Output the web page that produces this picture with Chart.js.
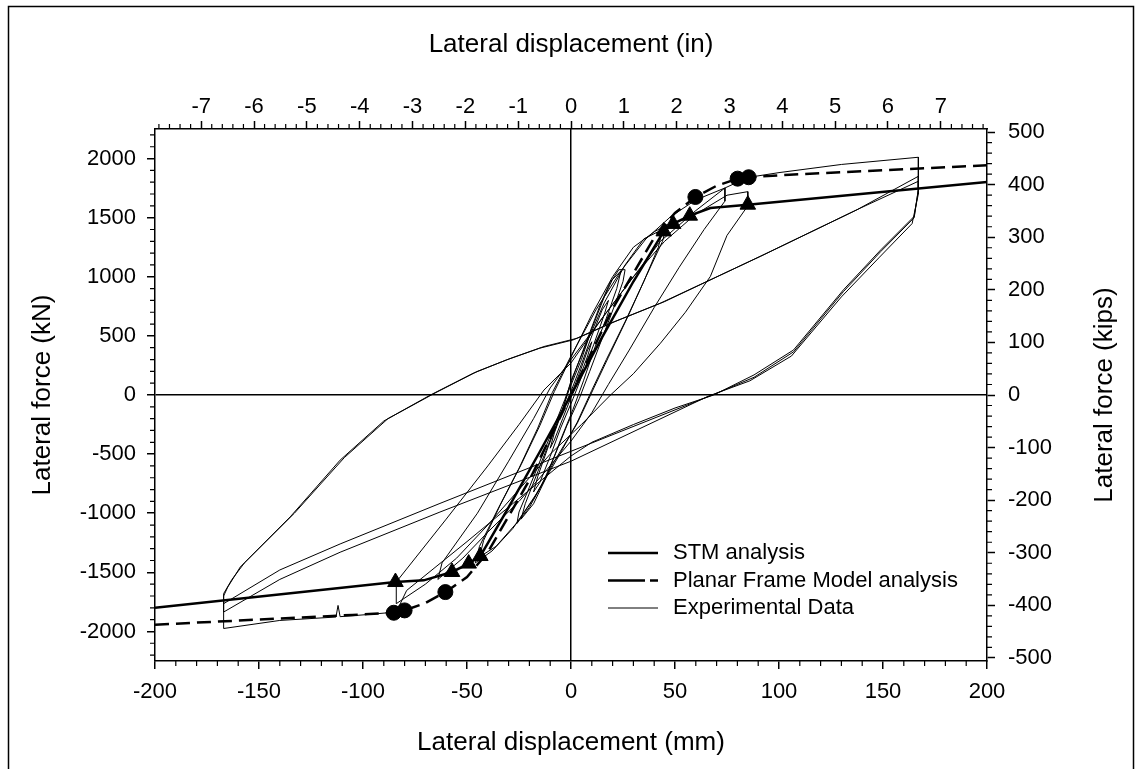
<!DOCTYPE html>
<html>
<head>
<meta charset="utf-8">
<script src="https://cdn.jsdelivr.net/npm/chart.js@4"></script>
<style>
  body { margin: 0; background: #fff; }
  #wrap { width: 1139px; height: 769px; }
</style>
</head>
<body>
<div id="wrap"><canvas id="myChart"></canvas></div>
<script>
// tick labels
var mmTicks = [-200, -150, -100, -50, 0, 50, 100, 150, 200];
var inTicks = [-7, -6, -5, -4, -3, -2, -1, 0, 1, 2, 3, 4, 5, 6, 7];
var kNTicks = [-2000, -1500, -1000, -500, 0, 500, 1000, 1500, 2000];
var kipTicks = [-500, -400, -300, -200, -100, 0, 100, 200, 300, 400, 500];

// STM analysis (mm, kN)
var stmDisp = [-200, -84.4, -70.8, -57.2, -49.2, -43.6, -30, -15, 0, 15, 30, 44.6, 49.1, 57.1, 67, 85, 200];
var stmForce = [-1799, -1582, -1568, -1497, -1426, -1362, -950, -480, 0, 490, 960, 1384, 1447, 1517, 1582, 1610, 1802];
var stmMarkDisp = [-84.4, -57.2, -49.2, -43.6, 44.6, 49.1, 57.1, 85];
var stmMarkForce = [-1582, -1497, -1426, -1362, 1384, 1447, 1517, 1610];

// Planar Frame Model analysis
var pfmDisp = [-200, -105, -85.2, -80, -70, -60.4, -50, -40, -20, 0, 20, 40, 50, 59.8, 70, 80.1, 85.4, 105, 200];
var pfmForce = [-1943, -1860, -1842, -1822, -1760, -1667, -1540, -1330, -720, 0, 730, 1330, 1540, 1675, 1770, 1830, 1842, 1864, 1943];
var pfmMarkDisp = [-85.2, -80, -60.4, 59.8, 80.1, 85.4];
var pfmMarkForce = [-1842, -1822, -1667, 1675, 1830, 1842];

// Experimental data, [mm, kN], in loading order
var expSmall = [[0,0],[4,180],[8,380],[10,450],[8,330],[4,140],[0,-20],[-4,-200],[-8,-380],[-10,-450],[-8,-320],[-4,-130],[0,30],
  [5,260],[10,500],[15,720],[18,800],[16,680],[11,430],[5,150],[1,-30],[-5,-280],[-10,-520],[-15,-740],[-18,-820],[-16,-690],[-11,-440],[-5,-170],[-1,40]];
var exp25 = [[5,300],[10,560],[16,830],[20,980],[23,1060],[26,1060],[25,960],[21,760],[15,480],[9,200],[4,-30],[-2,-260],[-8,-520],[-14,-760],[-20,-950],[-26,-1087],[-25,-990],[-20,-780],[-14,-520],[-8,-260],[-3,-40],
  [2,200],[8,480],[14,760],[19,960],[24,1050],[22,900],[17,650],[11,380],[6,120],[1,-120],[-5,-380],[-12,-700],[-18,-920],[-24,-1050],[-22,-920],[-16,-650],[-10,-380],[-4,-120]];
var exp44 = [[0,120],[8,460],[16,780],[26,1100],[35,1320],[44,1400],[42,1250],[35,960],[26,620],[17,300],[10,40],[3,-230],[-6,-520],[-16,-820],[-26,-1080],[-36,-1280],[-44,-1370],[-42,-1230],[-34,-930],[-24,-590],[-15,-260],[-8,30],
  [0,320],[10,680],[20,1000],[30,1250],[40,1380],[46,1440],[44,1300],[36,1000],[27,650],[18,320],[11,60],[3,-240],[-8,-560],[-18,-880],[-28,-1130],[-38,-1320],[-46,-1420],[-44,-1280],[-35,-960],[-25,-620],[-16,-280],[-9,20]];
var exp74 = [[0,330],[12,720],[24,1050],[36,1320],[48,1510],[60,1650],[74,1751],[74,1640],[64,1400],[52,1080],[40,740],[28,380],[18,90],[10,-150],[0,-390],[-12,-640],[-25,-900],[-40,-1160],[-52,-1380],[-64,-1560],[-62,-1420],[-45,-1000],[-30,-560],[-18,-200],[-10,60]];
var exp85 = [[0,300],[15,650],[30,1000],[45,1300],[60,1530],[75,1690],[85,1720],[85,1600],[75,1350],[67,1003],[55,700],[43,438],[30,180],[19,0],[5,-250],[-10,-500],[-25,-800],[-40,-1100],[-55,-1380],[-70,-1600],[-84,-1765],[-84,-1582],[-60,-1050],[-40,-600],[-25,-250],[-13,42],[0,271]];
var exp167 = [[15,650],[30,1000],[43,1300],[60,1560],[74,1751],[85,1840],[100,1881],[130,1950],[167,2011],[167,1737],
  [165,1511],[149,1229],[131,890],[107,381],[88,170],[68.6,0],[50,-110],[30,-250],[10,-400],[0,-516],[-26,-890],[-50,-1240],[-79,-1653],[-84,-1836],
  [-100,-1860],[-111,-1875],[-112,-1780],[-113,-1878],[-140,-1907],[-167,-1975],[-167,-1700],
  [-165,-1624],[-159,-1455],[-135,-1031],[-111,-551],[-90,-220],[-67.6,0],[-47,184],[-31,297],[-15,396],[1,466],[19,607],[43,777],[91,1172],[137.6,1568],[167,1850],[167,1740],
  [165,1500],[149,1215],[131,875],[107,365],[88,150],[68,0],[0,-476],[-63,-917],[-111,-1260],[-140,-1480],[-167,-1765],[-167,-1680],
  [-163,-1560],[-157,-1420],[-133,-1000],[-109,-530],[-88,-200],[-65,20],[-45,200],[-29,310],[-13,410],[3,480],[21,620],[45,790],[93,1190],[139,1580],[167,1808],[167,1700],
  [164,1450],[148,1160],[130,830],[106,330],[86,120],[66,-10],[0,-560],[-63,-990],[-111,-1330],[-140,-1560],[-167,-1836],[-167,-1740]];

var expPath = expSmall.concat(exp25, exp44, exp74, exp85, exp167);

function pts(xs, ys) {
  return xs.map(function(x, i) { return {x: x, y: ys[i]}; });
}

var FONT = '"Liberation Sans", Arial, Helvetica, sans-serif';
Chart.defaults.color = '#000';
Chart.defaults.font.family = FONT;

var frame = {
  id: 'frame',
  beforeDraw: function(chart) {
    var ctx = chart.ctx;
    ctx.save();
    ctx.fillStyle = '#fff';
    ctx.fillRect(0, 0, chart.width, chart.height);
    ctx.strokeStyle = '#000';
    ctx.lineWidth = 1.5;
    ctx.strokeRect(8.5, 6.5, 1125, 775);
    ctx.restore();
  }
};

var minorTicks = {
  id: 'minorTicks',
  afterDraw: function(chart) {
    var ctx = chart.ctx, a = chart.chartArea, s = chart.scales;
    ctx.save();
    ctx.strokeStyle = '#000';
    ctx.lineWidth = 1.2;
    ctx.beginPath();
    for (var v = -200; v <= 200; v += 10) {
      if (v % 50 === 0) continue;
      var px = s.x.getPixelForValue(v);
      ctx.moveTo(px, a.bottom); ctx.lineTo(px, a.bottom + 5);
    }
    for (var i = -39; i <= 39; i++) {
      if (i % 5 === 0) continue;
      var qx = s.xIn.getPixelForValue(i / 5);
      ctx.moveTo(qx, a.top); ctx.lineTo(qx, a.top - 5);
    }
    for (var k = -2200; k <= 2200; k += 100) {
      if (k % 500 === 0) continue;
      var py = s.y.getPixelForValue(k);
      ctx.moveTo(a.left, py); ctx.lineTo(a.left - 5, py);
    }
    for (var p = -500; p <= 500; p += 20) {
      if (p % 100 === 0) continue;
      var qy = s.yKip.getPixelForValue(p);
      ctx.moveTo(a.right, qy); ctx.lineTo(a.right + 5, qy);
    }
    ctx.stroke();

    // right axis title, reading upwards like the left one
    ctx.font = '26px ' + FONT;
    ctx.fillStyle = '#000';
    ctx.textAlign = 'center';
    ctx.textBaseline = 'middle';
    ctx.translate(1105, (a.top + a.bottom) / 2);
    ctx.rotate(-Math.PI / 2);
    ctx.fillText('Lateral force (kips)', 0, 0);
    ctx.restore();
  }
};

// legend drawn inside the plot, lower right
var insideLegend = {
  id: 'insideLegend',
  afterDatasetsDraw: function(chart) {
    var ctx = chart.ctx, a = chart.chartArea;
    var rows = [
      {text: 'STM analysis', width: 2.5, dash: []},
      {text: 'Planar Frame Model analysis', width: 2.5, dash: [37, 5]},
      {text: 'Experimental Data', width: 1, dash: []}
    ];
    var x0 = a.left + 453, y0 = a.top + 424;
    ctx.save();
    ctx.font = '22px ' + FONT;
    ctx.textBaseline = 'middle';
    ctx.fillStyle = '#000';
    ctx.strokeStyle = '#000';
    rows.forEach(function(r, i) {
      var y = y0 + i * 27.5;
      ctx.lineWidth = r.width;
      ctx.setLineDash(r.dash);
      ctx.beginPath();
      ctx.moveTo(x0, y); ctx.lineTo(x0 + 50, y);
      ctx.stroke();
      ctx.fillText(r.text, x0 + 65, y);
    });
    ctx.restore();
  }
};

function zeroLine(c) {
  return c.tick && c.tick.value === 0 ? '#000' : 'rgba(0,0,0,0)';
}

var ctx = document.getElementById('myChart').getContext('2d');
var myChart = new Chart(ctx, {
  type: 'scatter',
  data: {
    datasets: [
      {
        label: '',
        data: pts(stmMarkDisp, stmMarkForce),
        pointStyle: 'triangle',
        pointRadius: 9,
        backgroundColor: '#000',
        borderColor: '#000',
        showLine: false
      },
      {
        label: '',
        data: pts(pfmMarkDisp, pfmMarkForce),
        pointStyle: 'circle',
        pointRadius: 7.5,
        backgroundColor: '#000',
        borderColor: '#000',
        showLine: false
      },
      {
        label: 'STM analysis',
        data: pts(stmDisp, stmForce),
        showLine: true,
        borderColor: '#000',
        borderWidth: 2.5,
        pointRadius: 0
      },
      {
        label: 'Planar Frame Model analysis',
        data: pts(pfmDisp, pfmForce),
        showLine: true,
        borderColor: '#000',
        borderWidth: 2.5,
        borderDash: [14, 7],
        pointRadius: 0
      },
      {
        label: 'Experimental Data',
        data: expPath.map(function(p) { return {x: p[0], y: p[1]}; }),
        showLine: true,
        borderColor: '#000',
        borderWidth: 1,
        pointRadius: 0
      }
    ]
  },
  options: {
    responsive: true,
    maintainAspectRatio: false,
    animation: false,
    layout: { padding: 0 },
    plugins: {
      legend: { display: false },
      tooltip: { enabled: false }
    },
    scales: {
      x: {
        type: 'linear',
        position: 'bottom',
        min: -200,
        max: 200,
        afterBuildTicks: function(s) { s.ticks = mmTicks.map(function(v) { return {value: v}; }); },
        afterFit: function(s) { s.height = 108; },
        ticks: { font: { size: 22 }, padding: 10, callback: function(v) { return String(v); } },
        grid: { color: zeroLine, tickColor: '#000', tickLength: 8, lineWidth: 1.5, tickWidth: 1.5 },
        border: { display: true, color: '#000', width: 1.5 },
        title: { display: true, text: 'Lateral displacement (mm)', font: { size: 26 }, padding: { top: 0, bottom: 11 } }
      },
      xIn: {
        type: 'linear',
        position: 'top',
        min: -200 / 25.4,
        max: 200 / 25.4,
        afterBuildTicks: function(s) { s.ticks = inTicks.map(function(v) { return {value: v}; }); },
        afterFit: function(s) { s.height = 129; },
        ticks: { font: { size: 22 }, padding: 1, callback: function(v) { return String(v); } },
        grid: { drawOnChartArea: false, color: '#000', tickLength: 8, tickWidth: 1.5 },
        border: { display: true, color: '#000', width: 1.5 },
        title: { display: true, text: 'Lateral displacement (in)', font: { size: 26 }, padding: { top: 29, bottom: 0 } }
      },
      y: {
        type: 'linear',
        position: 'left',
        min: -2250,
        max: 2250,
        afterBuildTicks: function(s) { s.ticks = kNTicks.map(function(v) { return {value: v}; }); },
        afterFit: function(s) { s.width = 155; },
        ticks: { font: { size: 22 }, padding: 11, callback: function(v) { return String(v); } },
        grid: { color: zeroLine, tickColor: '#000', tickLength: 8, lineWidth: 1.5, tickWidth: 1.5 },
        border: { display: true, color: '#000', width: 1.5 },
        title: { display: true, text: 'Lateral force (kN)', font: { size: 26 }, padding: { top: 27, bottom: 0 } }
      },
      yKip: {
        type: 'linear',
        position: 'right',
        min: -2250 / 4.448,
        max: 2250 / 4.448,
        afterBuildTicks: function(s) { s.ticks = kipTicks.map(function(v) { return {value: v}; }); },
        afterFit: function(s) { s.width = 152; },
        ticks: { font: { size: 22 }, padding: 13, callback: function(v) { return String(v); } },
        grid: { drawOnChartArea: false, color: '#000', tickLength: 8, tickWidth: 1.5 },
        border: { display: true, color: '#000', width: 1.5 },
        title: { display: false }
      }
    }
  },
  plugins: [frame, minorTicks, insideLegend]
});
</script>
</body>
</html>
